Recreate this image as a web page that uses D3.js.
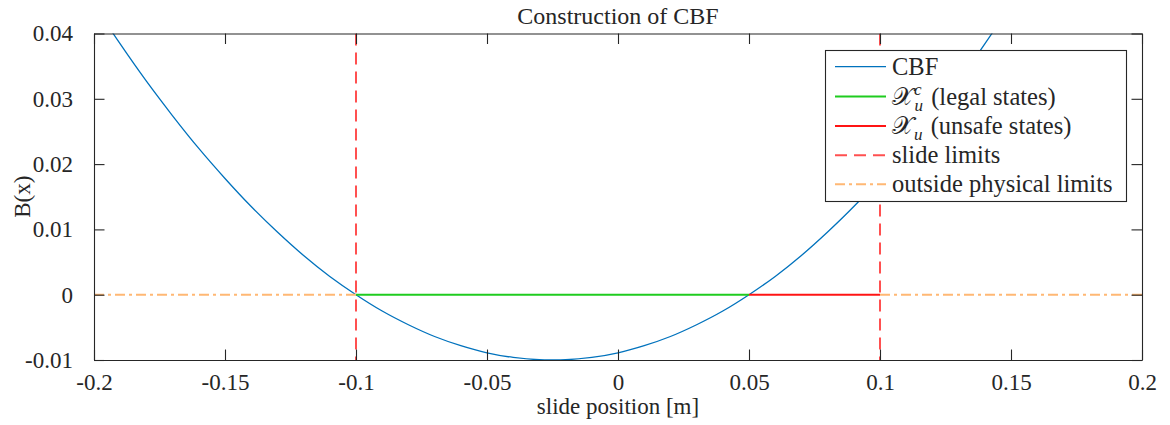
<!DOCTYPE html>
<html>
<head>
<meta charset="utf-8">
<script src="https://cdn.jsdelivr.net/npm/d3@7"></script>
<style>
  html, body { margin: 0; padding: 0; background: #fff; }
  svg { display: block; }
  svg text { font-family: "Liberation Serif", "Tinos", "Times New Roman", "Nimbus Roman", "DejaVu Serif", serif !important; fill: #262626; }
</style>
</head>
<body>
<svg id="chart" width="1170" height="425"></svg>
<script>
// Slide positions [m] and the control barrier function sampled along them
const positions = [-0.20, -0.19, -0.18, -0.17, -0.16, -0.15, -0.14, -0.13, -0.12, -0.11,
                   -0.10, -0.09, -0.08, -0.07, -0.06, -0.05, -0.04, -0.03, -0.025, -0.02,
                   -0.01, 0.00, 0.01, 0.02, 0.03, 0.04, 0.05, 0.06, 0.07, 0.08,
                   0.09, 0.10, 0.11, 0.12, 0.13, 0.14, 0.15];
const cbfValues = [0.0444, 0.0384, 0.0327, 0.0274, 0.0224, 0.0178, 0.0135, 0.0096, 0.0060, 0.0028,
                   0.0000, -0.0025, -0.0046, -0.0064, -0.0078, -0.0089, -0.0096, -0.00996, -0.0100, -0.00996,
                   -0.0096, -0.0089, -0.0078, -0.0064, -0.0046, -0.0025, 0.0000, 0.0028, 0.0060, 0.0096,
                   0.0135, 0.0178, 0.0224, 0.0274, 0.0327, 0.0384, 0.0444];

// Set segments on the B = 0 level
const legalStates = [[-0.10, 0], [0.05, 0]];
const unsafeStates = [[0.05, 0], [0.10, 0]];
const outsideLeft = [[-0.20, 0], [-0.10, 0]];
const outsideRight = [[0.10, 0], [0.20, 0]];
const slideLimits = [-0.10, 0.10];

// Axes
const xDomain = [-0.2, 0.2];
const yDomain = [-0.01, 0.04];
const xTicks = [-0.2, -0.15, -0.1, -0.05, 0, 0.05, 0.1, 0.15, 0.2];
const xTickLabels = ["-0.2", "-0.15", "-0.1", "-0.05", "0", "0.05", "0.1", "0.15", "0.2"];
const yTicks = [-0.01, 0, 0.01, 0.02, 0.03, 0.04];
const yTickLabels = ["-0.01", "0", "0.01", "0.02", "0.03", "0.04"];

const titleText = "Construction of CBF";
const xLabelText = "slide position [m]";
const yLabelText = "B(x)";

const colors = {
  cbf: "#0072BD",
  legal: "#1FCC1F",
  unsafe: "#FF1414",
  limits: "#FF5050",
  outside: "#FFB874",
  axis: "#262626"
};

const serif = '"Liberation Serif", "Tinos", "Times New Roman", "Nimbus Roman", "DejaVu Serif", serif';

const svg = d3.select("#chart");
const plot = { left: 94, right: 1142, top: 33.5, bottom: 360 };

const x = d3.scaleLinear().domain(xDomain).range([plot.left, plot.right]);
const y = d3.scaleLinear().domain(yDomain).range([plot.bottom, plot.top]);

svg.append("defs").append("clipPath").attr("id", "plotClip")
  .append("rect")
  .attr("x", plot.left).attr("y", plot.top)
  .attr("width", plot.right - plot.left).attr("height", plot.bottom - plot.top);

const g = svg.append("g").attr("clip-path", "url(#plotClip)");

const line = d3.line().x(d => x(d[0])).y(d => y(d[1]));

// CBF curve
g.append("path")
  .datum(positions.map((p, i) => [p, cbfValues[i]]))
  .attr("d", line.curve(d3.curveNatural))
  .attr("fill", "none")
  .attr("stroke", colors.cbf)
  .attr("stroke-width", 1.3);

const straight = d3.line().x(d => x(d[0])).y(d => y(d[1]));

g.append("path").datum(legalStates).attr("d", straight)
  .attr("fill", "none").attr("stroke", colors.legal).attr("stroke-width", 2);
g.append("path").datum(unsafeStates).attr("d", straight)
  .attr("fill", "none").attr("stroke", colors.unsafe).attr("stroke-width", 2);

g.selectAll(".limit").data(slideLimits).join("line")
  .attr("class", "limit")
  .attr("x1", d => x(d)).attr("x2", d => x(d))
  .attr("y1", y(yDomain[1])).attr("y2", y(yDomain[0]))
  .attr("stroke", colors.limits).attr("stroke-width", 2)
  .attr("stroke-dasharray", "12,7");

[outsideLeft, outsideRight].forEach(seg => {
  g.append("path").datum(seg).attr("d", straight)
    .attr("fill", "none").attr("stroke", colors.outside).attr("stroke-width", 2)
    .attr("stroke-dasharray", "10,4,3,4");
});

// Axes with inward ticks on all four sides
const tickLen = 10.5;
const xAxisBottom = d3.axisBottom(x).tickValues(xTicks).tickSizeInner(-tickLen).tickSizeOuter(0)
  .tickFormat((d, i) => xTickLabels[i]).tickPadding(14);
const xAxisTop = d3.axisTop(x).tickValues(xTicks).tickSizeInner(-tickLen).tickSizeOuter(0).tickFormat("");
const yAxisLeft = d3.axisLeft(y).tickValues(yTicks).tickSizeInner(-tickLen).tickSizeOuter(0)
  .tickFormat((d, i) => yTickLabels[i]).tickPadding(21);
const yAxisRight = d3.axisRight(y).tickValues(yTicks).tickSizeInner(-tickLen).tickSizeOuter(0).tickFormat("");

function styleAxis(sel) {
  sel.attr("font-family", serif);
  sel.select(".domain").attr("stroke", colors.axis).attr("stroke-width", 1.1);
  sel.selectAll(".tick line").attr("stroke", colors.axis).attr("stroke-width", 1.1);
  sel.selectAll(".tick text").attr("font-size", 23).attr("fill", colors.axis)
    .style("font-family", serif);
}

svg.append("g").attr("transform", `translate(0,${plot.bottom})`).call(xAxisBottom).call(styleAxis);
svg.append("g").attr("transform", `translate(0,${plot.top})`).call(xAxisTop).call(styleAxis);
svg.append("g").attr("transform", `translate(${plot.left},0)`).call(yAxisLeft).call(styleAxis);
svg.append("g").attr("transform", `translate(${plot.right},0)`).call(yAxisRight).call(styleAxis);

// Title and axis labels
svg.append("text")
  .attr("x", (plot.left + plot.right) / 2).attr("y", 24)
  .attr("text-anchor", "middle").attr("font-size", 24)
  .style("font-family", serif)
  .text(titleText);

svg.append("text")
  .attr("x", (plot.left + plot.right) / 2).attr("y", 414)
  .attr("text-anchor", "middle").attr("font-size", 23)
  .style("font-family", serif)
  .text(xLabelText);

svg.append("text")
  .attr("transform", `translate(30,${(plot.top + plot.bottom) / 2}) rotate(-90)`)
  .attr("text-anchor", "middle").attr("font-size", 23)
  .style("font-family", serif)
  .text(yLabelText);

// Legend
const legend = svg.append("g");
legend.append("rect")
  .attr("x", 825.5).attr("y", 50.5).attr("width", 301).attr("height", 151)
  .attr("fill", "#fff").attr("stroke", colors.axis).attr("stroke-width", 1.1);

const legendItems = [
  { key: "cbf", color: colors.cbf, width: 1.3, dash: null },
  { key: "legal", color: colors.legal, width: 2, dash: null },
  { key: "unsafe", color: colors.unsafe, width: 2, dash: null },
  { key: "limits", color: colors.limits, width: 2, dash: "12,7" },
  { key: "outside", color: colors.outside, width: 2, dash: "10,4,3,4" }
];
const rowY = [66.7, 96.5, 126, 155.2, 184.3];

legendItems.forEach((item, i) => {
  const yy = rowY[i];
  legend.append("line")
    .attr("x1", 835).attr("x2", 886).attr("y1", yy).attr("y2", yy)
    .attr("stroke", item.color).attr("stroke-width", item.width)
    .attr("stroke-dasharray", item.dash);
  const t = legend.append("text").attr("x", 892).attr("y", yy + 8)
    .attr("font-size", 24.5).style("font-family", serif);
  if (item.key === "cbf") t.text("CBF");
  if (item.key === "limits") t.text("slide limits");
  if (item.key === "outside") t.text("outside physical limits");
  if (item.key === "legal" || item.key === "unsafe") {
    t.append("tspan").text("\u{1D4B3}");
    if (item.key === "legal") {
      t.append("tspan").attr("font-size", 17).attr("font-style", "italic").attr("dy", -10).text("c");
      t.append("tspan").attr("font-size", 17).attr("font-style", "italic").attr("dx", -7).attr("dy", 16).text("u");
      t.append("tspan").attr("dy", -6).attr("dx", 2).text(" (legal states)");
    } else {
      t.append("tspan").attr("font-size", 17).attr("font-style", "italic").attr("dy", 6).text("u");
      t.append("tspan").attr("dy", -6).attr("dx", 2).text(" (unsafe states)");
    }
  }
});
</script>
</body>
</html>
